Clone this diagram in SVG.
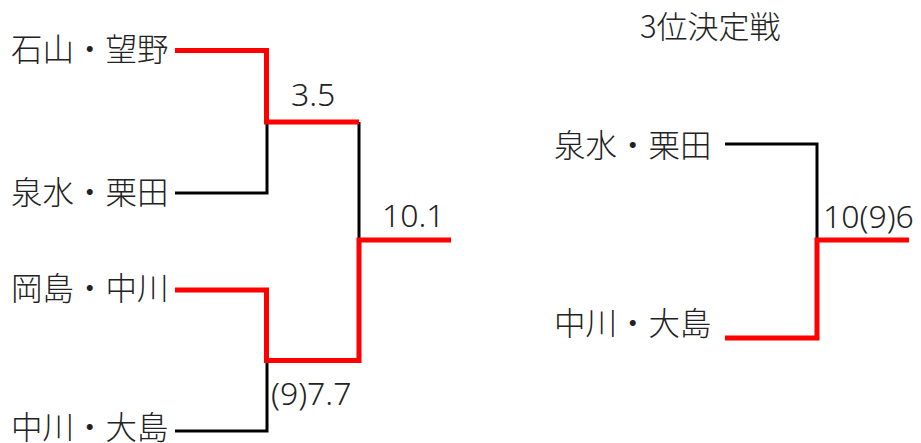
<svg xmlns="http://www.w3.org/2000/svg" width="921" height="443" viewBox="0 0 921 443">
  <style>
    .name { font-family: "Noto Sans CJK JP", "Noto Sans", sans-serif; font-size: 31.5px; font-weight: 300; fill: #222; }
    .title { font-family: "Noto Sans CJK JP", "Noto Sans", sans-serif; font-size: 31px; font-weight: 300; fill: #222; }
    .score { font-family: "Noto Sans", "Liberation Sans", sans-serif; font-size: 32px; font-weight: 300; fill: #222; }
    .lose { fill: none; stroke: #000; stroke-width: 3; stroke-linejoin: miter; stroke-linecap: butt; }
    .win { fill: none; stroke: #ff0000; stroke-width: 5; stroke-linejoin: miter; stroke-linecap: butt; }
  </style>
  <rect width="921" height="443" fill="#ffffff"/>
  <g id="connectors">
    <path class="lose" d="M175,193 H267 V122"/>
    <path class="lose" d="M359,122 V241"/>
    <path class="lose" d="M175,431 H267 V361"/>
    <path class="lose" d="M725,144 H817 V241"/>
    <path class="win" d="M175,50.5 H266.5 V122 H359"/>
    <path class="win" d="M175,290 H266.5 V360.5 H359 V240 H451"/>
    <path class="win" d="M725,338 H817 V240 H909"/>
  </g>
  <g id="team-ishiyama-mochino"><text class="name" x="11" y="61">石山・望野</text></g>
  <g id="team-izumi-kurita"><text class="name" x="11" y="203.5">泉水・栗田</text></g>
  <g id="team-okajima-nakagawa"><text class="name" x="11" y="299.5">岡島・中川</text></g>
  <g id="team-nakagawa-oshima"><text class="name" x="11" y="439">中川・大島</text></g>
  <g id="score-semi1"><text class="score" x="291" y="106">3.5</text></g>
  <g id="score-semi2"><text class="score" x="271" y="405">(9)7.7</text></g>
  <g id="score-final"><text class="score" x="382" y="227">10.1</text></g>
  <g id="third-place-title"><text class="title" x="640" y="38">3位決定戦</text></g>
  <g id="third-izumi-kurita"><text class="name" x="554" y="157">泉水・栗田</text></g>
  <g id="third-nakagawa-oshima"><text class="name" x="554" y="335">中川・大島</text></g>
  <g id="score-third"><text class="score" x="823" y="228">10(9)6</text></g>
</svg>
